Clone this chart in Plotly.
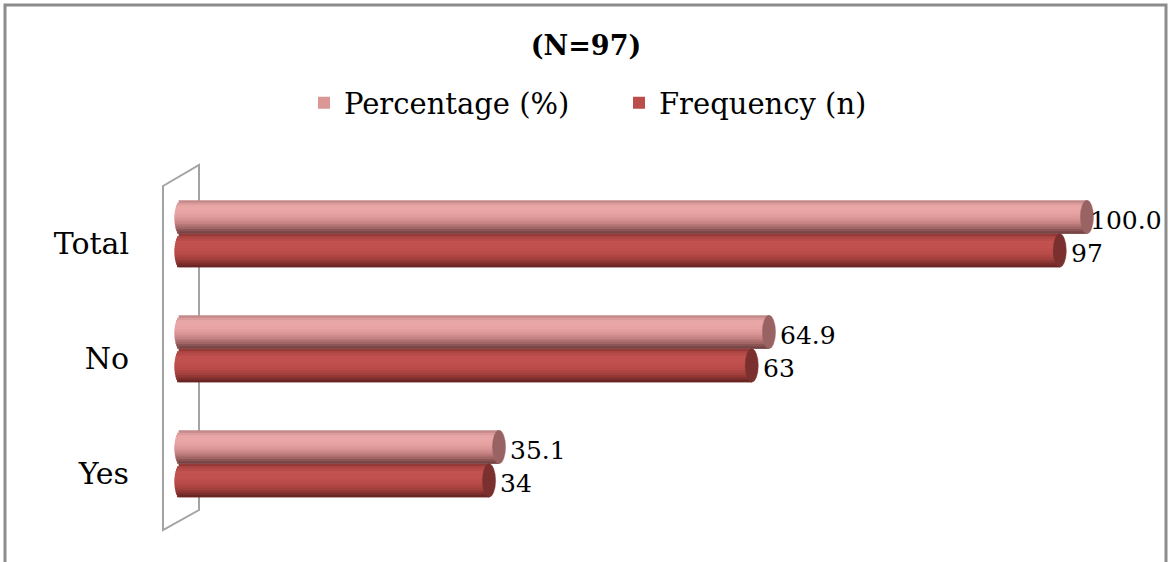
import numpy as np
import plotly.graph_objects as go

# ---- data ----
categories = ["Yes", "No", "Total"]
percentage = [35.1, 64.9, 100.0]
frequency = [34, 63, 97]
pct_labels = ["35.1", "64.9", "100.0"]
freq_labels = ["34", "63", "97"]

# ---- geometry / style ----
W, H = 1168, 562
ML, MR, MT, MB = 165, 8, 169, 2
X0_PX, PX_PER_UNIT = 181, 9.05          # pixel of x=0 and scale
X_RANGE = [-(X0_PX - ML) / PX_PER_UNIT, (W - MR - 1 - X0_PX) / PX_PER_UNIT]
Y_RANGE = [-0.75, 2.65]
THICK = 0.291          # thickness of one cylinder (y units)
PAIR_SHIFT = 0.087     # pair centre sits slightly above the tick
CAP_RX = 0.72          # horizontal radius of cylinder ends (x units)
NBANDS = 14
FONT = "DejaVu Serif"

pct_profile = [(0.0, "#b47e7e"), (0.08, "#d89999"), (0.2, "#eaa8a8"),
               (0.38, "#e8a3a3"), (0.56, "#d99494"), (0.7, "#c28080"),
               (0.82, "#a36666"), (0.92, "#855050"), (1.0, "#6a3e3e")]
freq_profile = [(0.0, "#8a3432"), (0.1, "#ad4643"), (0.25, "#c25250"),
                (0.45, "#c0504d"), (0.6, "#b84a47"), (0.75, "#a2403d"),
                (0.88, "#84312f"), (1.0, "#5e2220")]
pct_cap, freq_cap = "#9a6363", "#7a302e"


def hex2rgb(h):
    h = h.lstrip("#")
    return np.array([int(h[i:i + 2], 16) for i in (0, 2, 4)], dtype=float)


def sample(profile, t):
    for (t0, c0), (t1, c1) in zip(profile[:-1], profile[1:]):
        if t0 <= t <= t1:
            f = (t - t0) / (t1 - t0) if t1 > t0 else 0
            c = hex2rgb(c0) * (1 - f) + hex2rgb(c1) * f
            return "rgb(%d,%d,%d)" % tuple(np.round(c))
    return profile[-1][1]


ypos = np.arange(len(categories), dtype=float)
fig = go.Figure()


def add_cylinders(values, top_offset, profile, name, cap_color):
    """Draw one series as shaded horizontal cylinders made of thin bands.

    Bands are drawn top to bottom; each one reaches down over the next
    band's area, so the following band covers it without leaving seams.
    """
    band = THICK / NBANDS
    vals = np.asarray(values, dtype=float)
    for k in range(NBANDS):
        t = (k + 0.5) / NBANDS
        s = 2 * t - 1
        base = -CAP_RX * np.sqrt(max(0.0, 1 - s * s))   # rounded left end
        span = band * (2 if k < NBANDS - 1 else 1)
        fig.add_trace(go.Bar(
            y=ypos, x=vals - base, base=base, orientation="h",
            offset=top_offset - k * band - span, width=span,
            marker=dict(color=sample(profile, t), line=dict(width=0)),
            name=name, showlegend=(k == NBANDS // 2), legendgroup=name,
            hoverinfo="skip",
        ))
    # end faces of the cylinders
    for yc, v in zip(ypos, values):
        fig.add_shape(type="circle", xref="x", yref="y",
                      x0=v - CAP_RX, x1=v + CAP_RX,
                      y0=yc + top_offset - THICK, y1=yc + top_offset,
                      fillcolor=cap_color, line=dict(color=cap_color, width=0.5),
                      layer="above")


add_cylinders(percentage, PAIR_SHIFT + THICK, pct_profile, "Percentage (%)", pct_cap)
add_cylinders(frequency, PAIR_SHIFT, freq_profile, "Frequency (n)", freq_cap)

# value labels
for vals, labs, yc_off in ((percentage, pct_labels, PAIR_SHIFT + THICK / 2),
                           (frequency, freq_labels, PAIR_SHIFT - THICK / 2)):
    for yc, v, lab in zip(ypos, vals, labs):
        fig.add_annotation(x=v, y=yc + yc_off, text=lab, showarrow=False,
                           xanchor="left", yanchor="middle",
                           xshift=1 if v >= 99 else 9, yshift=-3,
                           font=dict(family=FONT, size=25, color="black"))


def px(xp):
    return (xp - ML) / (W - ML - MR)


def py(yp):
    return (H - MB - yp) / (H - MT - MB)


# back wall of the 3-D plot
wall = [(163, 186), (199, 165), (199, 510), (163, 530)]
path = "M " + " L ".join("%f,%f" % (px(a), py(b)) for a, b in wall) + " Z"
fig.add_shape(type="path", xref="paper", yref="paper", path=path,
              line=dict(color="#a3a3a3", width=2), fillcolor="rgba(0,0,0,0)",
              layer="below")

# chart frame (bottom edge lies outside the page)
frame = [(5, 700), (5, 5), (1166, 5), (1166, 700)]
fpath = "M " + " L ".join("%f,%f" % (px(a), py(b)) for a, b in frame)
fig.add_shape(type="path", xref="paper", yref="paper", path=fpath,
              line=dict(color="#8c8c8c", width=3), layer="below")

fig.update_layout(
    width=W, height=H,
    margin=dict(l=ML, r=MR, t=MT, b=MB),
    paper_bgcolor="white", plot_bgcolor="white",
    barmode="overlay",
    font=dict(family=FONT, color="black"),
    title=dict(text="<b>(N=97)</b>", x=586 / W, xanchor="center",
               y=1 - 46 / H, yanchor="middle",
               font=dict(family=FONT, size=27, color="black")),
    legend=dict(orientation="h", xref="container", yref="container",
                x=304 / W, xanchor="left", y=1 - 103 / H, yanchor="middle",
                font=dict(family=FONT, size=29, color="black"),
                traceorder="normal", entrywidth=270, bgcolor="rgba(0,0,0,0)"),
    xaxis=dict(range=X_RANGE, visible=False, fixedrange=True),
    yaxis=dict(range=Y_RANGE, tickvals=list(ypos), ticktext=categories,
               showgrid=False, zeroline=False, showline=False, ticks="",
               ticklabelstandoff=35,
               tickfont=dict(family=FONT, size=30, color="black")),
    showlegend=True,
)

fig.write_html("out.html")
